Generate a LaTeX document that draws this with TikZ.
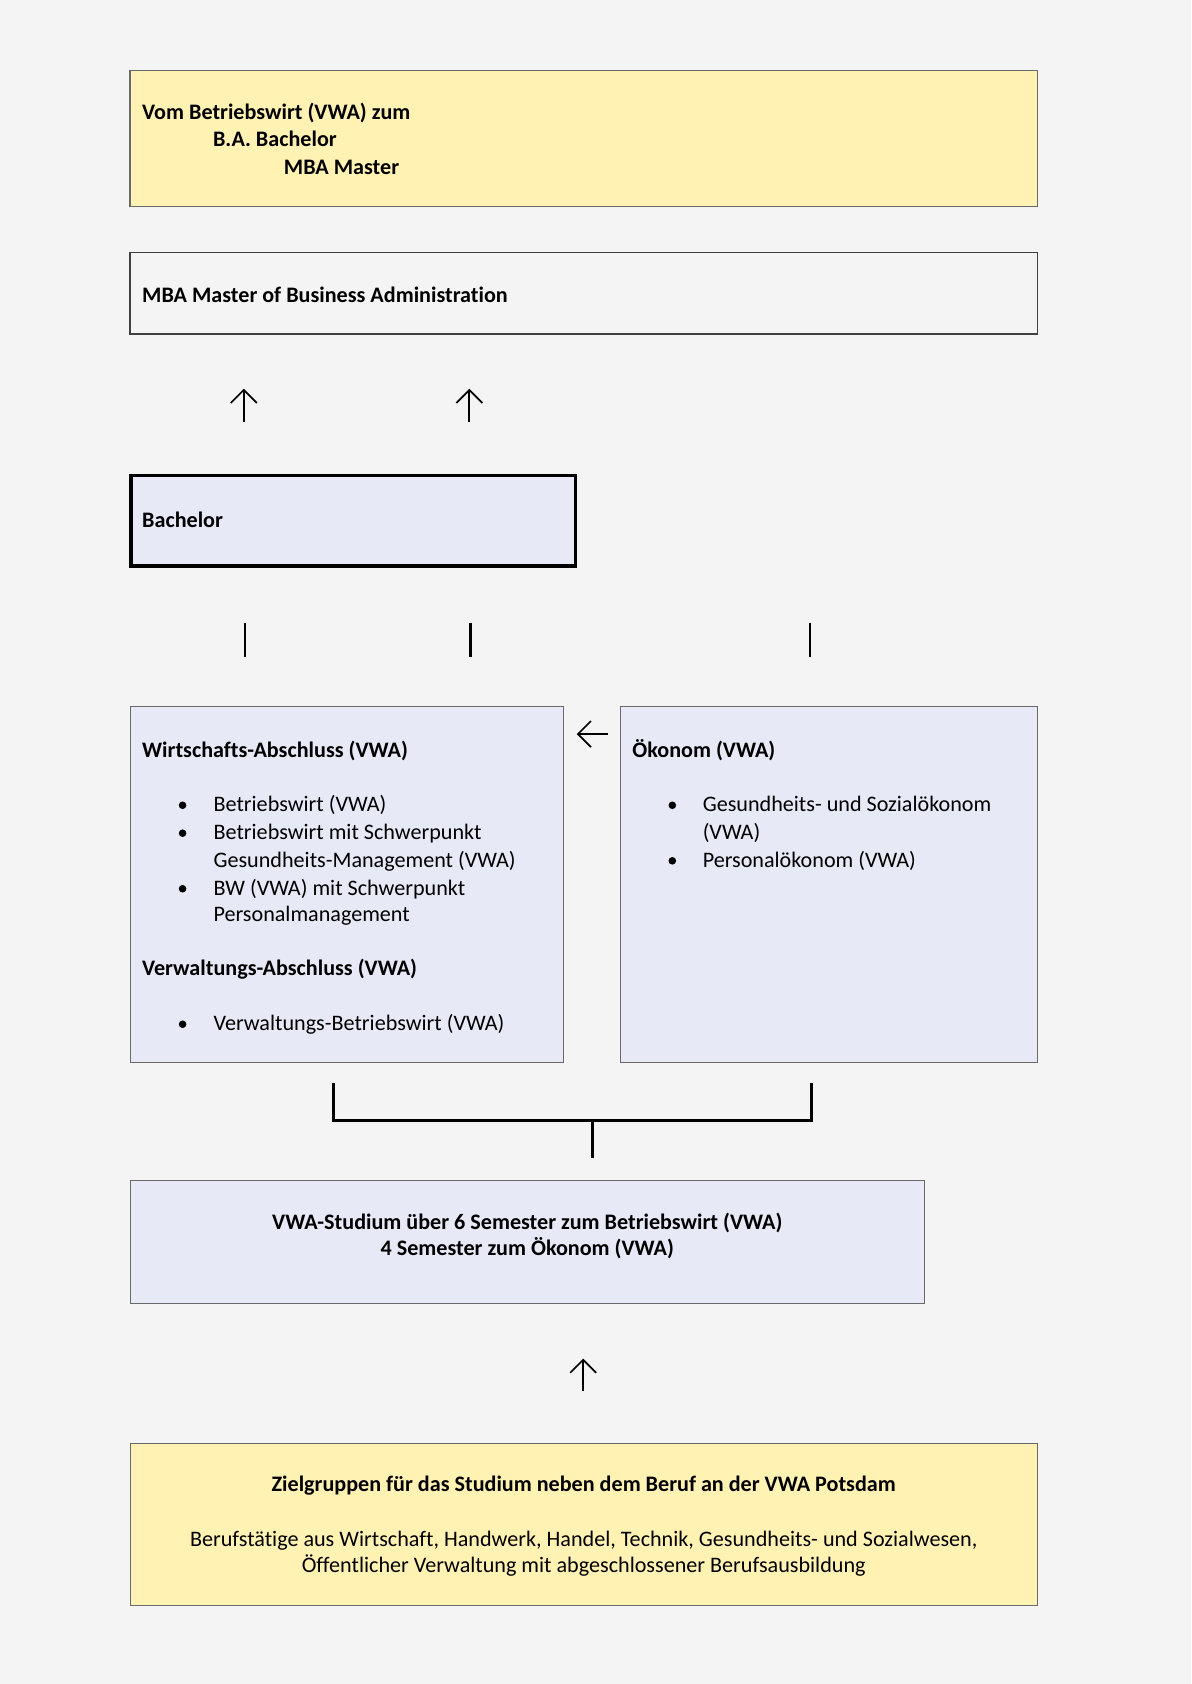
\documentclass[tikz,border=0pt]{standalone}
\usepackage{fontspec}
\setmainfont{Carlito}[Ligatures=NoCommon]
\usetikzlibrary{arrows.meta,fit}
\definecolor{bg}{RGB}{244,244,244}
\definecolor{yel}{RGB}{255,242,179}
\definecolor{lav}{RGB}{231,233,246}
\definecolor{edge}{RGB}{105,105,105}
\begin{document}
\begin{tikzpicture}[x=0.53677bp,y=-0.53677bp,
  box/.style={draw=edge, line width=0.6bp, inner sep=0pt},
  txt/.style={inner sep=0pt, anchor=base west, yshift=-0.6bp, font=\fontsize{11.1}{13.4}\selectfont},
  ctxt/.style={inner sep=0pt, anchor=base, yshift=-0.6bp, font=\fontsize{11.1}{13.4}\selectfont},
  bul/.style={circle, fill=black, inner sep=0pt, minimum size=3.8bp},
  arr/.style={line width=0.85bp, -{Straight Barb[length=6.5bp,width=13bp,line width=0.85bp]}},
  bar/.style={line width=1.1bp},
  brk/.style={line width=1.4bp}]
\fill[bg] (0,0) rectangle (1109,1568);
\useasboundingbox (0,0) rectangle (1109,1568);

% top box
\node[box, fill=yel, fit={(121,66)(966,192)}] (top) {};
\node[txt] (t1) at (132,110.5) {\bfseries Vom Betriebswirt (VWA) zum};
\node[txt] (t2) at (198,135.5) {\bfseries B.A. Bachelor};
\node[txt] (t3) at (264,161.2) {\bfseries MBA Master};

% MBA box
\node[box, draw=black!75, fill=bg, fit={(121,235)(966,311)}] (mba) {};
\node[txt] (mbat) at (132,280.4) {\bfseries MBA Master of Business Administration};

% arrows up to MBA
\coordinate (u1s) at (227,393); \coordinate (u1e) at (227,362);
\coordinate (u2s) at (437,393); \coordinate (u2e) at (437,362);
\draw[arr] (u1s) -- (u1e);
\draw[arr] (u2s) -- (u2e);

% Bachelor box
\node[draw=black, line width=1.7bp, fill=lav, inner sep=0pt, fit={(122,443)(536,527)}] (bach) {};
\node[txt] (bacht) at (132,490) {\bfseries Bachelor};

% vertical bars
\coordinate (v1s) at (228,580); \coordinate (v1e) at (228,612);
\coordinate (v2s) at (438,580); \coordinate (v2e) at (438,612);
\coordinate (v3s) at (754,580); \coordinate (v3e) at (754,612);
\draw[bar] (v1s) -- (v1e);
\draw[bar] (v2s) -- (v2e);
\draw[bar] (v3s) -- (v3e);

% left box
\node[box, fill=lav, fit={(121.5,658)(524.5,989.5)}] (left) {};
\node[txt] (lh1) at (132,704) {\bfseries Wirtschafts-Abschluss (VWA)};
\node[bul] (lb1) at (170,749.8) {};
\node[txt] (l1) at (198.5,754.6) {Betriebswirt (VWA)};
\node[bul] (lb2) at (170,775.8) {};
\node[txt] (l2a) at (198.5,780.6) {Betriebswirt mit Schwerpunkt};
\node[txt] (l2b) at (198.5,806.3) {Gesundheits-Management (VWA)};
\node[bul] (lb3) at (170,827.5) {};
\node[txt] (l3a) at (198.5,832.3) {BW (VWA) mit Schwerpunkt};
\node[txt] (l3b) at (198.5,856.8) {Personalmanagement};
\node[txt] (lh2) at (132,907.1) {\bfseries Verwaltungs-Abschluss (VWA)};
\node[bul] (lb4) at (170,953.7) {};
\node[txt] (l4) at (198.5,958.5) {Verwaltungs-Betriebswirt (VWA)};

% left arrow
\coordinate (las) at (566,683.5); \coordinate (lae) at (537,683.5);
\draw[arr] (las) -- (lae);

% right box
\node[box, fill=lav, fit={(578,658)(966,989.5)}] (right) {};
\node[txt] (rh) at (588.5,704) {\bfseries Ökonom (VWA)};
\node[bul] (rb1) at (626,749.8) {};
\node[txt] (r1a) at (654,754.6) {Gesundheits- und Sozialökonom};
\node[txt] (r1b) at (654,780.6) {(VWA)};
\node[bul] (rb2) at (626,801.5) {};
\node[txt] (r2) at (654,806.3) {Personalökonom (VWA)};

% bracket
\coordinate (bl) at (310.4,1008.7);
\coordinate (br) at (755.5,1008.7);
\coordinate (bm) at (551.4,1043.5);
\coordinate (bb) at (551.4,1078.5);
\draw[brk] (bl) |- (bm) -| (br);
\draw[brk] (bm) -- (bb);

% VWA box
\node[box, fill=lav, fit={(121.5,1099)(861,1214)}] (vwa) {};
\node[ctxt] (vw1) at (491,1143.7) {\bfseries VWA-Studium über 6 Semester zum Betriebswirt (VWA)};
\node[ctxt] (vw2) at (491,1167.7) {\bfseries 4 Semester zum Ökonom (VWA)};

% arrow up to VWA
\coordinate (u3s) at (543,1295); \coordinate (u3e) at (543,1265);
\draw[arr] (u3s) -- (u3e);

% bottom box
\node[box, fill=yel, fit={(121.5,1344)(966,1495)}] (ziel) {};
\node[ctxt] (z1) at (543.5,1388) {\bfseries Zielgruppen für das Studium neben dem Beruf an der VWA Potsdam};
\node[ctxt] (z2) at (543.5,1439.3) {Berufstätige aus Wirtschaft, Handwerk, Handel, Technik, Gesundheits- und Sozialwesen,};
\node[ctxt] (z3) at (543.5,1463.5) {Öffentlicher Verwaltung mit abgeschlossener Berufsausbildung};
\end{tikzpicture}
\end{document}
